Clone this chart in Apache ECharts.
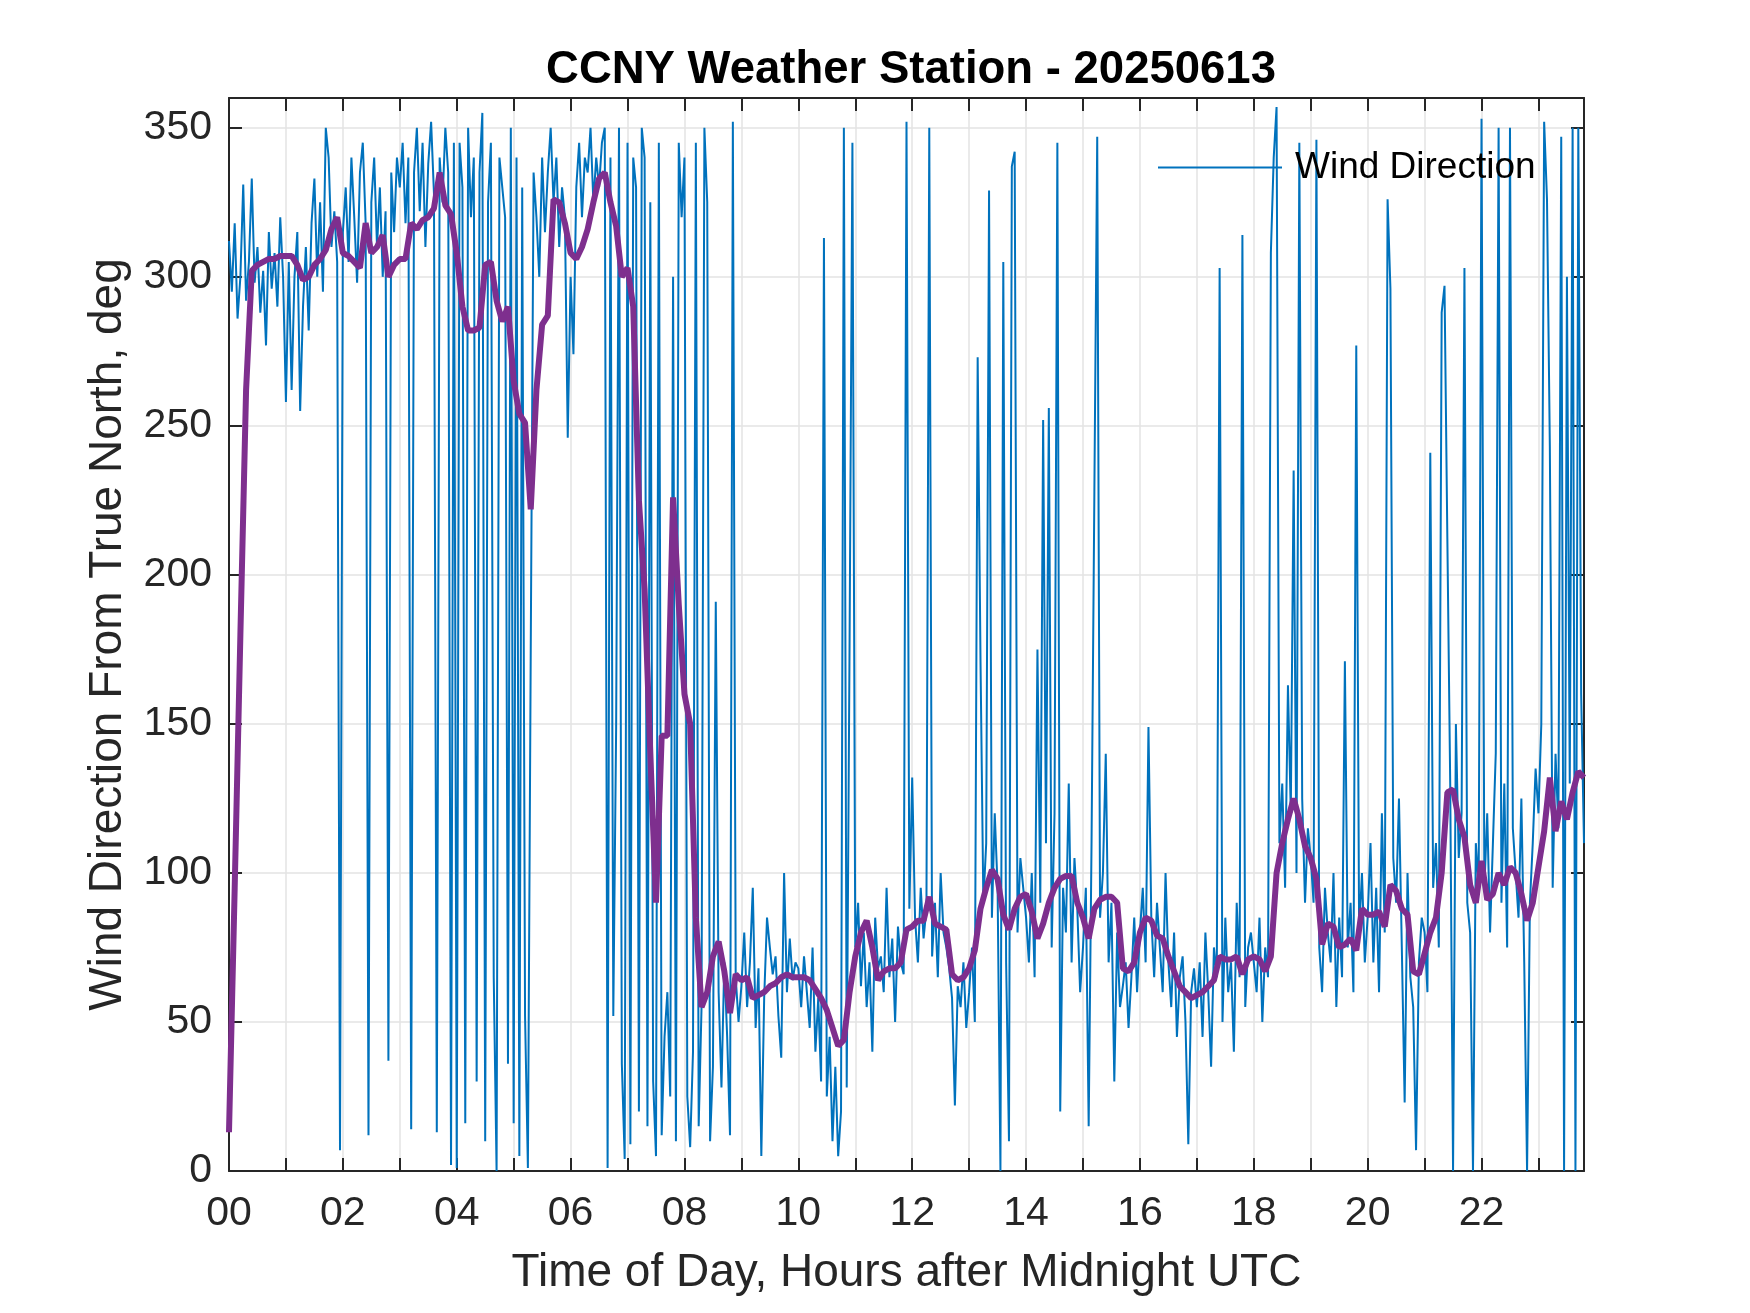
<!DOCTYPE html>
<html>
<head>
<meta charset="utf-8">
<title>CCNY Weather Station - 20250613</title>
<script src="https://cdn.jsdelivr.net/npm/echarts@6/dist/echarts.min.js"></script>
<style>
  html, body { margin: 0; padding: 0; background: #ffffff; }
  #chart { width: 1750px; height: 1313px; }
</style>
</head>
<body>
<div id="chart"></div>
<script>
// ---------------- DATA ----------------
const chartTitle = 'CCNY Weather Station - 20250613';
const xAxisTitle = 'Time of Day, Hours after Midnight UTC';
const yAxisTitle = 'Wind Direction From True North, deg';
const seriesName = 'Wind Direction';

// sample spacing of the wind-direction record (hours) and of its running mean (hours)
const sampleStepHours = 0.05;
const meanStepHours = 0.1;

// Wind direction samples (deg), one row per hour (20 samples per hour)
const windDir = [
  312,295,318,286,300,331,292,305,333,298,310,288,302,277,315,296,308,290,320,300, // 00
  258,305,262,300,315,255,290,310,282,318,333,300,325,295,350,340,310,322,305,7,   // 01
  315,330,305,340,320,298,335,345,318,12,325,340,310,330,300,322,37,335,315,340,   // 02
  330,345,318,340,14,335,350,322,345,310,338,352,328,13,340,325,350,335,2,345,     // 03
  1,345,330,16,350,320,340,30,335,355,10,325,345,65,0,340,330,320,36,350,          // 04
  16,340,5,330,52,1,175,335,320,300,340,315,335,350,325,340,310,330,320,246,       // 05
  300,274,330,345,320,340,335,350,325,340,330,345,350,1,340,52,149,350,36,4,       // 06
  345,9,340,330,20,350,340,15,325,30,5,345,12,45,60,25,300,10,345,320,             // 07
  340,25,8,40,345,15,55,350,325,10,35,191,60,28,70,45,12,352,65,50,                // 08
  62,80,55,70,95,48,68,5,58,85,75,66,72,52,38,100,60,78,64,70,                     // 09
  68,55,72,60,48,75,40,58,30,313,25,45,10,35,5,20,350,28,177,345,                  // 10
  75,90,62,80,55,70,40,85,68,72,60,95,65,78,50,82,70,66,352,88,                    // 11
  132,85,70,95,78,88,350,72,90,65,100,80,75,68,58,22,62,55,70,48,                  // 12
  60,75,50,273,171,90,110,329,85,120,95,0,305,70,10,337,342,80,105,95,             // 13
  85,70,100,65,175,90,252,110,256,75,120,345,20,95,80,130,70,105,88,60,            // 14
  75,95,15,110,228,347,85,100,140,70,90,30,80,55,62,70,48,65,85,60,                // 15
  80,95,70,149,85,65,90,75,60,100,70,55,80,45,65,72,50,9,60,68,                    // 16
  55,70,45,80,60,35,75,65,303,50,85,60,70,40,90,65,314,55,75,80,                   // 17
  70,60,85,50,75,65,308,340,357,110,130,95,163,120,235,100,345,125,90,115,         // 18
  105,90,346,75,60,95,80,70,100,55,85,65,171,75,90,60,277,80,100,70,               // 19
  85,110,70,95,60,120,80,326,296,105,90,125,75,23,100,65,55,7,70,85,               // 20
  80,60,241,95,110,75,288,297,212,130,0,150,105,120,303,90,80,0,110,95,            // 21
  353,95,120,80,110,140,350,90,130,75,350,115,100,85,125,70,0,90,110,135,          // 22
  120,150,352,326,243,95,140,115,347,0,300,130,350,0,350,160,110                   // 23
];

// Running mean of wind direction (deg), one row per hour (10 values per hour)
const windMean = [
  13,95,180,262,302,304,305,306,306,307,        // 00
  307,307,304,299,300,304,306,309,316,320,      // 01
  308,307,305,303,318,308,310,314,300,304,      // 02
  306,306,318,316,319,320,323,335,324,321,      // 03
  308,290,282,282,283,304,305,292,285,290,      // 04
  265,254,251,222,262,284,287,326,325,318,      // 05
  308,306,310,316,325,333,335,325,317,300,      // 06
  303,290,225,195,140,90,146,146,226,190,       // 07
  160,150,85,55,60,72,77,67,53,66,              // 08
  64,65,58,59,60,62,63,65,66,65,                // 09
  65,65,64,61,58,54,48,42,44,60,                // 10
  72,80,84,75,64,67,68,68,70,81,                // 11
  82,84,84,92,83,82,81,66,64,65,                // 12
  68,74,88,95,101,98,86,81,88,92,               // 13
  93,87,78,83,90,95,98,99,99,90,                // 14
  85,78,88,91,92,92,90,68,67,70,                // 15
  80,85,84,79,78,72,67,62,60,58,                // 16
  59,60,62,64,72,71,71,72,66,71,                // 17
  72,71,67,72,100,110,118,125,118,109,          // 18
  105,98,76,83,82,75,76,78,74,88,               // 19
  86,86,87,82,96,94,88,86,67,66,                // 20
  73,80,85,100,127,128,118,112,96,90,           // 21
  104,91,93,100,96,102,100,93,84,90,            // 22
  102,114,132,114,124,118,127,134,132           // 23
];

// Axis ranges and ticks
const xMin = 0, xMax = 23.8, xTickStep = 1;
const yMin = 0, yMax = 360, yTickStep = 50;

// ---------------- CHART ----------------
const windSeriesData = windDir.map((v, i) => [+(i * sampleStepHours).toFixed(3), v]);
const meanSeriesData = windMean.map((v, i) => [+(i * meanStepHours).toFixed(3), v]);

const axisColor = '#262626';
const gridColor = '#e3e3e3';
const fontFam = '"Liberation Sans", Arial, Helvetica, sans-serif';

const chart = echarts.init(document.getElementById('chart'), null, { renderer: 'canvas' });

function xLabel(v) {
  const r = Math.round(v);
  if (Math.abs(v - r) > 1e-6 || r % 2 !== 0) return '';
  return String(r).padStart(2, '0');
}
function yLabel(v) {
  return (Math.abs(v % yTickStep) < 1e-6) ? String(v) : '';
}

const option = {
  animation: false,
  backgroundColor: '#ffffff',
  title: {
    text: chartTitle,
    left: 906,
    textAlign: 'center',
    top: 42,
    textStyle: { fontFamily: fontFam, fontSize: 45.5, fontWeight: 'bold', color: '#000000' }
  },
  legend: {
    data: [seriesName],
    left: 1153,
    top: 144,
    icon: 'rect',
    itemWidth: 124,
    itemHeight: 2,
    itemGap: 0,
    textStyle: { fontFamily: fontFam, fontSize: 37, color: '#000000', padding: [0, 0, 0, 8] },
    backgroundColor: 'transparent',
    borderWidth: 0
  },
  grid: { left: 229, right: 166, top: 98, bottom: 142, containLabel: false },
  xAxis: [
    {
      type: 'value', min: xMin, max: xMax, interval: xTickStep, position: 'bottom',
      name: xAxisTitle, nameLocation: 'middle', nameGap: 79,
      nameTextStyle: { fontFamily: fontFam, fontSize: 46, color: axisColor },
      axisLine: { show: true, onZero: false, lineStyle: { color: axisColor, width: 2 } },
      axisTick: { show: true, inside: true, length: 13, lineStyle: { color: axisColor, width: 2 } },
      axisLabel: { formatter: xLabel, margin: 22, fontFamily: fontFam, fontSize: 41, color: axisColor, showMaxLabel: false },
      splitLine: { show: true, lineStyle: { color: gridColor, width: 1.5 } }
    },
    {
      type: 'value', min: xMin, max: xMax, interval: xTickStep, position: 'top',
      axisLine: { show: true, onZero: false, lineStyle: { color: axisColor, width: 2 } },
      axisTick: { show: true, inside: true, length: 13, lineStyle: { color: axisColor, width: 2 } },
      axisLabel: { show: false },
      splitLine: { show: false }
    }
  ],
  yAxis: [
    {
      type: 'value', min: yMin, max: yMax, interval: yTickStep, position: 'left',
      name: yAxisTitle, nameLocation: 'middle', nameGap: 98, nameRotate: 90,
      nameTextStyle: { fontFamily: fontFam, fontSize: 46, color: axisColor },
      axisLine: { show: true, onZero: false, lineStyle: { color: axisColor, width: 2 } },
      axisTick: { show: true, inside: true, length: 13, lineStyle: { color: axisColor, width: 2 } },
      axisLabel: { formatter: yLabel, margin: 17, fontFamily: fontFam, fontSize: 41, color: axisColor },
      splitLine: { show: true, lineStyle: { color: gridColor, width: 1.5 } }
    },
    {
      type: 'value', min: yMin, max: yMax, interval: yTickStep, position: 'right',
      axisLine: { show: true, onZero: false, lineStyle: { color: axisColor, width: 2 } },
      axisTick: { show: true, inside: true, length: 13, lineStyle: { color: axisColor, width: 2 } },
      axisLabel: { show: false },
      splitLine: { show: false }
    }
  ],
  series: [
    {
      name: seriesName,
      type: 'line',
      xAxisIndex: 0, yAxisIndex: 0,
      data: windSeriesData,
      showSymbol: false,
      symbol: 'none',
      lineStyle: { color: '#0072BD', width: 2 },
      itemStyle: { color: '#0072BD' },
      z: 2
    },
    {
      name: 'Running Mean',
      type: 'line',
      xAxisIndex: 0, yAxisIndex: 0,
      data: meanSeriesData,
      showSymbol: false,
      symbol: 'none',
      lineStyle: { color: '#7E2F8E', width: 6 },
      itemStyle: { color: '#7E2F8E' },
      z: 3
    }
  ]
};

chart.setOption(option);
</script>
</body>
</html>
